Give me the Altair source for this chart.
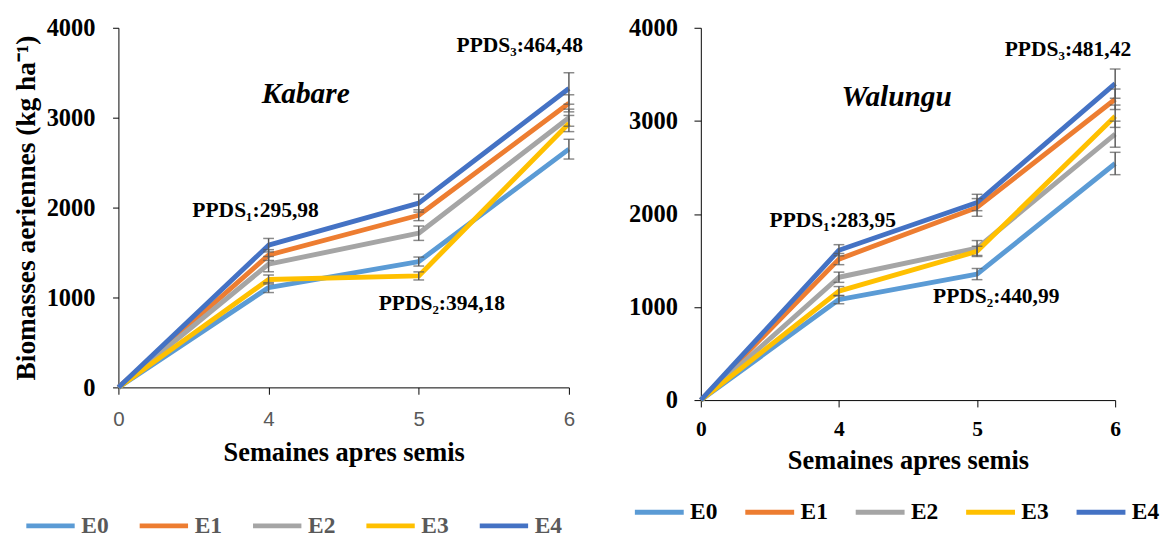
import altair as alt
import pandas as pd

weeks = ["0", "4", "5", "6"]
series = ["E0", "E1", "E2", "E3", "E4"]
palette = ["#5B9BD5", "#ED7D31", "#A5A5A5", "#FFC000", "#4472C4"]

# Kabare (left panel)
kab_E0 = [0, 1110, 1400, 2650]
kab_E1 = [0, 1472, 1915, 3160]
kab_E2 = [0, 1371, 1715, 3000]
kab_E3 = [0, 1200, 1240, 2935]
kab_E4 = [0, 1582, 2050, 3325]
kab_err_E0 = [0, 55, 50, 110]
kab_err_E1 = [0, 60, 60, 95]
kab_err_E2 = [0, 85, 80, 95]
kab_err_E3 = [0, 50, 45, 90]
kab_err_E4 = [0, 75, 100, 175]

# Walungu (right panel)
wal_E0 = [0, 1080, 1354, 2542]
wal_E1 = [0, 1515, 2070, 3232]
wal_E2 = [0, 1320, 1634, 2857]
wal_E3 = [0, 1170, 1598, 3050]
wal_E4 = [0, 1610, 2123, 3400]
wal_err_E0 = [0, 45, 60, 120]
wal_err_E1 = [0, 60, 95, 110]
wal_err_E2 = [0, 55, 80, 140]
wal_err_E3 = [0, 50, 55, 120]
wal_err_E4 = [0, 60, 88, 157]

kab_notes = ["Kabare", "PPDS\u2081:295,98", "PPDS\u2082:394,18", "PPDS\u2083:464,48"]
kab_note_weeks = ["4", "4", "5", "6"]
kab_note_vals = [3159, 1897, 863, 3735]

wal_notes = ["Walungu", "PPDS\u2081:283,95", "PPDS\u2082:440,99", "PPDS\u2083:481,42"]
wal_note_weeks = ["4", "4", "5", "6"]
wal_note_vals = [3158, 1857, 1039, 3694]

SERIF = "Liberation Serif"
YTITLE = "Biomasses aeriennes (kg ha\u207b\u00b9)"
XTITLE = "Semaines apres semis"


def long_df(vals, errs):
    rows = []
    for s, v, e in zip(series, vals, errs):
        for w, y, d in zip(weeks, v, e):
            rows.append({"week": w, "series": s, "value": y, "lo": y - d, "hi": y + d, "err": d})
    return pd.DataFrame(rows)


def panel(df, notes, note_weeks, note_vals, width, height, xaxis, yaxis, ytitle, legend, note_dx):
    xs = alt.Scale(type="point", domain=weeks, padding=0)
    ys = alt.Scale(domain=[0, 4000], nice=False)
    X = alt.X("week:O", scale=xs, axis=xaxis, title=XTITLE)
    base = alt.Chart(df)
    line = base.mark_line(strokeWidth=5, strokeJoin="round").encode(
        x=X,
        y=alt.Y("value:Q", scale=ys, axis=yaxis, title=ytitle),
        color=alt.Color("series:N", scale=alt.Scale(domain=series, range=palette), legend=legend),
        order=alt.Order("series:N"),
    )
    errdf = base.transform_filter("datum.err > 0")
    rule = errdf.mark_rule(color="#595959", strokeWidth=1.5).encode(
        x=X, y=alt.Y("lo:Q", scale=ys, title=ytitle), y2="hi:Q"
    )
    cap_lo = errdf.mark_tick(color="#595959", thickness=1.5, size=11).encode(
        x=X, y=alt.Y("lo:Q", scale=ys, title=ytitle)
    )
    cap_hi = errdf.mark_tick(color="#595959", thickness=1.5, size=11).encode(
        x=X, y=alt.Y("hi:Q", scale=ys, title=ytitle)
    )
    layers = [line, rule, cap_lo, cap_hi]
    for i, (t, w, v) in enumerate(zip(notes, note_weeks, note_vals)):
        nd = pd.DataFrame({"week": [w], "v": [v], "t": [t]})
        if i == 0:
            mk = alt.Chart(nd).mark_text(font=SERIF, fontSize=30, fontWeight="bold", fontStyle="italic",
                                         align="center", baseline="alphabetic", color="black", dx=note_dx[i])
        else:
            mk = alt.Chart(nd).mark_text(font=SERIF, fontSize=22, fontWeight="bold",
                                         align="left", baseline="alphabetic", color="black", dx=note_dx[i])
        layers.append(mk.encode(x=alt.X("week:O", scale=xs, title=XTITLE),
                                y=alt.Y("v:Q", scale=ys, title=ytitle), text="t:N"))
    return alt.layer(*layers).properties(width=width, height=height)


kab_df = long_df([kab_E0, kab_E1, kab_E2, kab_E3, kab_E4],
                 [kab_err_E0, kab_err_E1, kab_err_E2, kab_err_E3, kab_err_E4])
wal_df = long_df([wal_E0, wal_E1, wal_E2, wal_E3, wal_E4],
                 [wal_err_E0, wal_err_E1, wal_err_E2, wal_err_E3, wal_err_E4])

left_x = alt.Axis(labelAngle=0, labelFont="Liberation Sans", labelFontSize=21, labelColor="#595959",
                  labelFontWeight="normal", tickSize=7, labelPadding=15, domainColor="black",
                  tickColor="black", titleFont=SERIF, titleFontSize=27,
                  titleFontWeight="bold", titleColor="black", titlePadding=11, grid=False)
left_y = alt.Axis(values=[0, 1000, 2000, 3000, 4000], format="d", labelFont=SERIF, labelFontSize=25,
                  labelFontWeight="bold", labelColor="black", tickSize=6, labelPadding=18,
                  domainColor="black", tickColor="black", titleFont=SERIF,
                  titleFontSize=28, titleFontWeight="bold", titleColor="black", titlePadding=6, grid=False)
right_x = alt.Axis(labelAngle=0, labelFont=SERIF, labelFontSize=22, labelColor="black",
                   labelFontWeight="bold", tickSize=7, labelPadding=12, domainColor="black",
                   tickColor="black", titleFont=SERIF, titleFontSize=27,
                   titleFontWeight="bold", titleColor="black", titlePadding=9, grid=False)
right_y = alt.Axis(values=[0, 1000, 2000, 3000, 4000], format="d", labelFont=SERIF, labelFontSize=25,
                   labelFontWeight="bold", labelColor="black", tickSize=7, labelPadding=17,
                   domainColor="black", tickColor="black", grid=False)

left_legend = alt.Legend(orient="none", legendX=-97, legendY=482, direction="horizontal", columns=5,
                         title=None, symbolType="stroke", symbolSize=2450, symbolStrokeWidth=5,
                         labelFont=SERIF, labelFontSize=24, labelFontWeight="bold", labelColor="#595959",
                         labelOffset=4, columnPadding=20, padding=0)
right_legend = alt.Legend(orient="none", legendX=-70, legendY=468, direction="horizontal", columns=5,
                          title=None, symbolType="stroke", symbolSize=2500, symbolStrokeWidth=5,
                          labelFont=SERIF, labelFontSize=24, labelFontWeight="bold", labelColor="black",
                          labelOffset=4, columnPadding=17, padding=0)

left = panel(kab_df, kab_notes, kab_note_weeks, kab_note_vals, 461, 368, left_x, left_y, YTITLE,
             left_legend, [38, -78, -41, -115])
right = panel(wal_df, wal_notes, wal_note_weeks, wal_note_vals, 424, 381, right_x, right_y, None,
              right_legend, [59, -71, -45, -113])

chart = (
    alt.hconcat(left, right, spacing=135, bounds="flush")
    .resolve_scale(color="independent", y="independent")
    .resolve_legend(color="independent")
    .configure_view(stroke=None)
    .properties(padding={"left": 5, "top": 2, "right": 5, "bottom": 0}, background="white")
)

chart.save("out.html", embed_options={"renderer": "svg", "actions": False})
